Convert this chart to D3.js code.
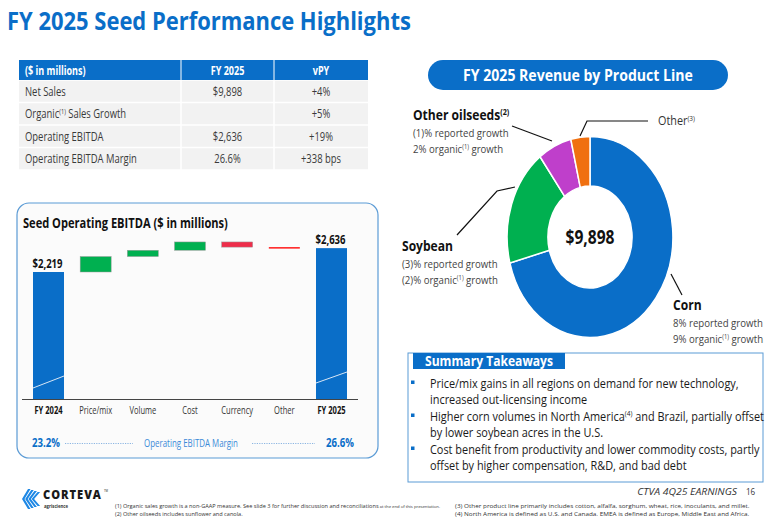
<!DOCTYPE html>
<html>
<head>
<meta charset="utf-8">
<script src="https://cdn.jsdelivr.net/npm/d3@7"></script>
<style>
  body { margin: 0; background: #fff; }
  svg { display: block; font-family: 'Open Sans', 'Noto Sans', sans-serif; }
</style>
</head>
<body>
<svg id="chart" width="772" height="529"></svg>
<script>
// ---- data ----
var tableHeader = ['($ in millions)', 'FY 2025', 'vPY'];
var tableMetrics = ['Net Sales', 'Organic^(1)^ Sales Growth', 'Operating EBITDA', 'Operating EBITDA Margin'];
var tableFY = ['$9,898', '', '$2,636', '26.6%'];
var tableVPY = ['+4%', '+5%', '+19%', '+338 bps'];

var bridgeSteps = ['FY 2024', 'Price/mix', 'Volume', 'Cost', 'Currency', 'Other', 'FY 2025'];
var bridgeValues = [2219, 270, 110, 145, -90, -18, 2636];
var bridgeLabels = ['$2,219', '', '', '', '', '', '$2,636'];
var marginValues = ['23.2%', '26.6%'];

var productLines = ['Corn', 'Soybean', 'Other oilseeds', 'Other'];
var productRevenue = [7010, 1870, 650, 368];
var productTotal = '$9,898';

var takeaways = [
    ['Price/mix gains in all regions on demand for new technology,', 'increased out-licensing income'],
    ['Higher corn volumes in North America^(4)^ and Brazil, partially offset', 'by lower soybean acres in the U.S.'],
    ['Cost benefit from productivity and lower commodity costs, partly', 'offset by higher compensation, R&D, and bad debt']
];
var footnotesLeft = [
    '(1) Organic sales growth is a non-GAAP measure. See slide 3 for further discussion and reconciliations',
    '(2) Other oilseeds includes sunflower and canola.'
];
var footnotesRight = [
    '(3) Other product line primarily includes cotton, alfalfa, sorghum, wheat, rice, inoculants, and millet.',
    '(4) North America is defined as U.S. and Canada. EMEA is defined as Europe, Middle East and Africa.'
];

// ---- helpers ----
var blue = '#0a6ec8';
var svg = d3.select('#chart');

// text with ^sup^ parts
function rich(sel, str) {
    str.split('^').forEach(function (s, i) {
        if (!s) return;
        var t = sel.append('tspan').text(s);
        if (i % 2) t.attr('font-size', '0.6em').attr('dy', '-0.55em');
        else if (i > 0) t.attr('dy', '0.33em');
    });
    return sel;
}
// text squeezed horizontally: to o.width if given, else by o.sx
function label(x, y, str, size, o) {
    o = o || {};
    var t = svg.append('text')
        .attr('font-size', size)
        .attr('font-weight', o.weight || 400)
        .attr('fill', o.fill || '#333')
        .attr('text-anchor', o.anchor || 'start');
    if (o.italic) t.attr('font-style', 'italic');
    if (o.spacing) t.attr('letter-spacing', o.spacing);
    rich(t, str);
    var sx = o.width ? o.width / t.node().getComputedTextLength() : (o.sx || 0.8);
    t.attr('transform', 'translate(' + x + ',' + y + ') scale(' + sx + ',1)');
    t.sx = sx;
    return t;
}
// horizontal squeeze needed for str to span w pixels
function squeeze(str, size, w, weight) {
    var t = label(0, 0, str, size, { weight: weight, width: w });
    var sx = t.sx;
    t.remove();
    return sx;
}

svg.append('rect').attr('width', 772).attr('height', 529).attr('fill', '#fff');

// title
label(7, 30, 'FY 2025 Seed Performance Highlights', 25, { weight: 700, fill: blue, width: 404 });

// ---- table ----
var tx = [19, 181, 274, 368];
var rowY = [80, 102.5, 125, 147.5, 170];
svg.append('rect').attr('x', tx[0]).attr('y', 60).attr('width', tx[3] - tx[0]).attr('height', 20).attr('fill', blue);
var tsx = squeeze(tableMetrics[3], 12, 112);
tableHeader.forEach(function (h, i) {
    label(i === 0 ? tx[0] + 6 : (tx[i] + tx[i + 1]) / 2, 74.5, h, 11.5,
        { weight: 700, fill: '#fff', anchor: i === 0 ? 'start' : 'middle', sx: tsx });
});
[tx[1], tx[2]].forEach(function (x) {
    svg.append('line').attr('x1', x).attr('x2', x).attr('y1', 60).attr('y2', 80)
        .attr('stroke', '#fff').attr('stroke-width', 1);
});
tableMetrics.forEach(function (m, i) {
    svg.append('rect').attr('x', tx[0]).attr('y', rowY[i] + 0.75)
        .attr('width', tx[3] - tx[0]).attr('height', rowY[i + 1] - rowY[i] - 1.5)
        .attr('fill', '#f2f2f2');
    var cy = (rowY[i] + rowY[i + 1]) / 2 + 4.5;
    label(tx[0] + 6, cy, m, 12, { fill: '#3a3a3a', sx: tsx });
    label((tx[1] + tx[2]) / 2, cy, tableFY[i], 12, { fill: '#3a3a3a', anchor: 'middle', sx: tsx });
    label((tx[2] + tx[3]) / 2, cy, tableVPY[i], 12, { fill: '#3a3a3a', anchor: 'middle', sx: tsx });
});
[tx[1], tx[2]].forEach(function (x) {
    svg.append('line').attr('x1', x).attr('x2', x).attr('y1', 80).attr('y2', 170)
        .attr('stroke', '#fff').attr('stroke-width', 1.5);
});

// ---- waterfall panel ----
svg.append('rect').attr('x', 17).attr('y', 203).attr('width', 361).attr('height', 255)
    .attr('rx', 12).attr('fill', '#fbfbfb').attr('stroke', '#5b9bd5').attr('stroke-width', 1.2);
label(23, 228, 'Seed Operating EBITDA ($ in millions)', 14, { weight: 700, fill: '#111', width: 205 });

var base = 399;
var x = d3.scalePoint().domain(bridgeSteps).range([48.5, 331.5]);
var y = d3.scaleLinear().domain([0, bridgeValues[0]]).range([base, 272]);
var bw = 31;

var running = 0;
var bars = bridgeValues.map(function (v, i) {
    var total = (i === 0 || i === bridgeValues.length - 1);
    var from = total ? 0 : running;
    var to = total ? v : running + v;
    running = to;
    return { step: bridgeSteps[i], from: from, to: to, v: v, total: total, label: bridgeLabels[i] };
});

var csx = squeeze('Price/mix', 10, 33);
bars.forEach(function (d, i) {
    var y0 = y(Math.max(d.from, d.to)), y1 = y(Math.min(d.from, d.to));
    var h = Math.max(y1 - y0, 1.5);
    var fill = d.total ? blue : (d.v >= 0 ? '#00b050' : (i === 5 ? '#ff1a1a' : '#ee2d4a'));
    svg.append('rect')
        .attr('x', x(d.step) - bw / 2).attr('y', y0)
        .attr('width', bw).attr('height', h)
        .attr('fill', fill)
        .attr('stroke', d.total || i === 5 ? 'none' : '#9a9a9a').attr('stroke-width', 0.5);
    if (d.total) {
        // axis-break stroke
        var off = i === 0 ? [11, 23] : [16, 27];
        svg.append('line')
            .attr('x1', x(d.step) - bw / 2).attr('y1', base - off[0])
            .attr('x2', x(d.step) + bw / 2).attr('y2', base - off[1])
            .attr('stroke', '#d8e6f5').attr('stroke-width', 1);
        label(x(d.step) - 1, y0 - 4, d.label, 12.5, { weight: 700, fill: '#111', anchor: 'middle', width: 30 });
    }
    label(x(d.step), 414, d.step, 10, {
        anchor: 'middle', weight: d.total ? 700 : 400, fill: d.total ? '#111' : '#333', sx: csx
    });
});
svg.append('line').attr('x1', 22).attr('x2', 358).attr('y1', base + 0.5).attr('y2', base + 0.5)
    .attr('stroke', '#444').attr('stroke-width', 1.2);

// margin row
label(32, 447, marginValues[0], 12, { weight: 700, fill: blue, width: 28 });
label(354, 447, marginValues[1], 12, { weight: 700, fill: blue, width: 28, anchor: 'end' });
label(191, 447, 'Operating EBITDA Margin', 10, { fill: '#3a8ad8', width: 94, anchor: 'middle' });
[[65, 133], [252, 315]].forEach(function (s) {
    svg.append('line').attr('x1', s[0]).attr('x2', s[1]).attr('y1', 443.5).attr('y2', 443.5)
        .attr('stroke', '#6fa3dc').attr('stroke-width', 0.8).attr('stroke-dasharray', '1.2,1.2');
});

// ---- donut ----
svg.append('rect').attr('x', 428).attr('y', 60).attr('width', 300).attr('height', 30)
    .attr('rx', 15).attr('fill', blue);
label(578, 81, 'FY 2025 Revenue by Product Line', 15.5, { weight: 700, fill: '#fff', anchor: 'middle', width: 230 });

var colors = d3.scaleOrdinal().domain(productLines).range(['#0a6ec8', '#00b050', '#bf3fcb', '#f07010']);
var pie = d3.pie().sort(null).value(function (d) { return d.v; });
var arc = d3.arc().innerRadius(51).outerRadius(100.5);
var donut = svg.append('g').attr('transform', 'translate(590,237) scale(0.825,1)');
donut.selectAll('path')
    .data(pie(productLines.map(function (p, i) { return { name: p, v: productRevenue[i] }; })))
    .enter().append('path')
    .attr('d', arc)
    .attr('fill', function (d) { return colors(d.data.name); })
    .attr('stroke', '#fff').attr('stroke-width', 1.5)
    .attr('vector-effect', 'non-scaling-stroke');
label(590, 244, productTotal, 20, { weight: 700, fill: '#111', anchor: 'middle', width: 49 });

// leader lines
var leaders = [
    [[512, 126], [552, 141]],
    [[648, 121], [587, 121], [580, 136]],
    [[457, 235], [497, 191], [515, 187]],
    [[671, 274], [682, 295]]
];
leaders.forEach(function (pts) {
    svg.append('path').attr('d', d3.line()(pts)).attr('fill', 'none')
        .attr('stroke', '#111').attr('stroke-width', 1.2);
});

var nameSx = squeeze('Soybean', 14, 51, 700);
var noteSx = squeeze('8% reported growth', 11.5, 90);
function productLabel(x0, yTop, name, lines) {
    label(x0, yTop, name, 14, { weight: 700, fill: '#111', sx: nameSx });
    lines.forEach(function (l, i) {
        label(x0, yTop + 16.5 + i * 16, l, 11.5, { fill: '#444', sx: noteSx });
    });
}
productLabel(413, 120, 'Other oilseeds^(2)^', ['(1)% reported growth', '2% organic^(1)^ growth']);
productLabel(402, 251, 'Soybean', ['(3)% reported growth', '(2)% organic^(1)^ growth']);
productLabel(673, 310, 'Corn', ['8% reported growth', '9% organic^(1)^ growth']);
label(658, 125, 'Other^(3)^', 11.7, { fill: '#333', width: 37 });

// ---- summary takeaways ----
svg.append('rect').attr('x', 408).attr('y', 353).attr('width', 355).attr('height', 129)
    .attr('fill', 'none').attr('stroke', '#5b9bd5').attr('stroke-width', 1);
svg.append('rect').attr('x', 413).attr('y', 353).attr('width', 152).attr('height', 16).attr('fill', blue);
label(425, 366, 'Summary Takeaways', 14, { weight: 700, fill: '#fff', width: 128 });

var bsx = squeeze(takeaways[1][0], 12.2, 334);
takeaways.forEach(function (item, i) {
    var y0 = 387.5 + i * 33;
    svg.append('rect').attr('x', 411).attr('y', y0 - 7).attr('width', 3.5).attr('height', 3.5).attr('fill', blue);
    item.forEach(function (l, j) {
        label(430, y0 + j * 16.5, l, 12.2, { fill: '#1a1a1a', sx: bsx });
    });
});

// ---- footer ----
var logo = svg.append('g').attr('transform', 'translate(22,489)');
[0, 1, 2, 3].forEach(function (k) {
    logo.append('path')
        .attr('d', 'M' + (6 + k * 3.2) + ',' + (k * 1) + ' L' + (k * 3.2) + ',10 L' + (6 + k * 3.2) + ',' + (20 - k * 1) +
            ' L' + (8.5 + k * 3.2) + ',' + (20 - k * 1) + ' L' + (2.5 + k * 3.2) + ',10 L' + (8.5 + k * 3.2) + ',' + (k * 1) + 'Z')
        .attr('fill', '#1e88e5');
});
label(43, 499, 'CORTEVA', 11.5, { weight: 800, fill: '#1a1a1a', spacing: 1, width: 59 });
label(104, 492, 'TM', 3.5, { fill: '#1a1a1a' });
label(44, 508, 'agriscience', 5.5, { weight: 700, fill: '#333', width: 24 });

var fl = label(115, 508, footnotesLeft[0], 5, { fill: '#333' });
fl.append('tspan').attr('font-size', '0.75em').text(' at the end of this presentation.');
var fsx = 325 / fl.node().getComputedTextLength();
fl.attr('transform', 'translate(115,508) scale(' + fsx + ',1)');
label(115, 515.5, footnotesLeft[1], 5, { fill: '#333', sx: fsx });
var frsx = squeeze(footnotesRight[1], 5, 295);
footnotesRight.forEach(function (f, i) {
    label(455, 508 + i * 7.5, f, 5, { fill: '#333', sx: frsx });
});
label(737, 495, 'CTVA 4Q25 EARNINGS', 9, { anchor: 'end', italic: true, fill: '#333', width: 100 });
label(746, 495, '16', 9, { fill: '#333', sx: 0.9 });
</script>
</body>
</html>
